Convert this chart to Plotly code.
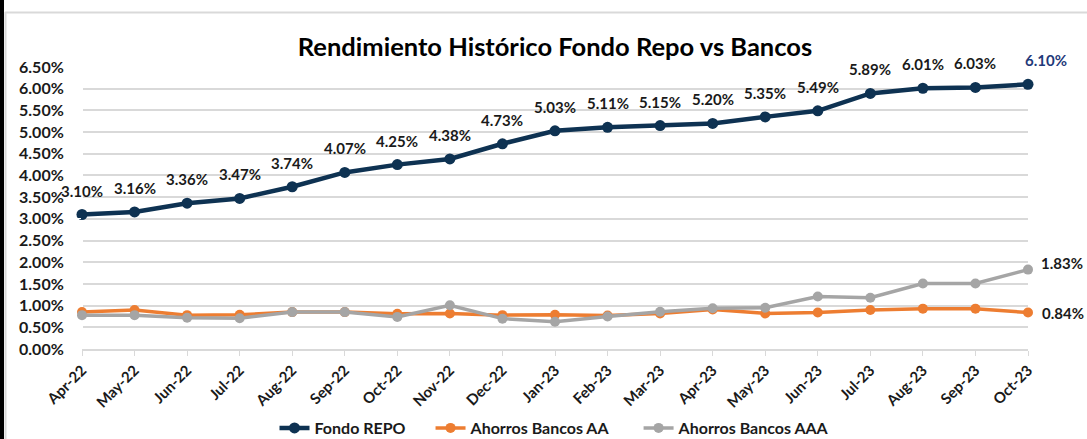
import plotly.graph_objects as go

months = ["Apr-22", "May-22", "Jun-22", "Jul-22", "Aug-22", "Sep-22", "Oct-22", "Nov-22", "Dec-22",
          "Jan-23", "Feb-23", "Mar-23", "Apr-23", "May-23", "Jun-23", "Jul-23", "Aug-23", "Sep-23", "Oct-23"]
fondo_repo = [3.10, 3.16, 3.36, 3.47, 3.74, 4.07, 4.25, 4.38, 4.73, 5.03, 5.11, 5.15, 5.20, 5.35, 5.49, 5.89, 6.01, 6.03, 6.10]
bancos_aa = [0.85, 0.90, 0.78, 0.79, 0.85, 0.85, 0.81, 0.82, 0.78, 0.79, 0.77, 0.82, 0.91, 0.82, 0.84, 0.90, 0.93, 0.93, 0.84]
bancos_aaa = [0.78, 0.78, 0.72, 0.71, 0.85, 0.85, 0.74, 1.01, 0.70, 0.63, 0.75, 0.86, 0.94, 0.95, 1.21, 1.18, 1.51, 1.51, 1.83]
y_ticks = [0.0, 0.5, 1.0, 1.5, 2.0, 2.5, 3.0, 3.5, 4.0, 4.5, 5.0, 5.5, 6.0, 6.5]
series_names = ["Fondo REPO", "Ahorros Bancos AA", "Ahorros Bancos AAA"]

FONT = "Lato"
W, H = 1087, 439
L, R, T, B = 82, 59, 67, 90
pw, ph = W - L - R, H - T - B

x = list(range(len(months)))
fig = go.Figure()
fig.add_trace(go.Scatter(x=x, y=fondo_repo, name=series_names[0] + "\u2003\u2002", mode="lines+markers",
                         line=dict(color="#0E3252", width=4.5), marker=dict(size=11, color="#0E3252"),
                         cliponaxis=False))
fig.add_trace(go.Scatter(x=x, y=bancos_aa, name=series_names[1] + "\u2003\u2003", mode="lines+markers",
                         line=dict(color="#ED7D31", width=3.5), marker=dict(size=10, color="#ED7D31"),
                         cliponaxis=False))
fig.add_trace(go.Scatter(x=x, y=bancos_aaa, name=series_names[2], mode="lines+markers",
                         line=dict(color="#A5A5A5", width=3.5), marker=dict(size=10, color="#A5A5A5"),
                         cliponaxis=False))

LBL = dict(family=FONT, size=15, color="#1a1a1a", weight="bold")
annotations = []
for i, v in enumerate(fondo_repo):
    last = i == len(fondo_repo) - 1
    f = dict(LBL)
    if last:
        f["color"] = "#1F3A7A"
    annotations.append(dict(x=i, y=v, text=f"{v:.2f}%", showarrow=False, yshift=24,
                            xshift=18 if last else 0, font=f))
annotations.append(dict(x=len(months) - 1, y=bancos_aaa[-1], text=f"{bancos_aaa[-1]:.2f}%", showarrow=False,
                        xanchor="left", xshift=11, yshift=7, font=LBL))
annotations.append(dict(x=len(months) - 1, y=bancos_aa[-1], text=f"{bancos_aa[-1]:.2f}%", showarrow=False,
                        xanchor="left", xshift=12, yshift=0, font=LBL))

def px_x(p):
    return (p - L) / pw

def px_y(p):
    return (H - B - p) / ph

shapes = [
    dict(type="rect", xref="paper", yref="paper", x0=px_x(0), x1=px_x(4), y0=px_y(H), y1=px_y(0),
         fillcolor="black", line=dict(width=0), layer="above"),
    dict(type="line", xref="paper", yref="paper", x0=px_x(5.5), x1=px_x(5.5), y0=px_y(H), y1=px_y(12),
         line=dict(color="#D9D9D9", width=2)),
    dict(type="line", xref="paper", yref="paper", x0=px_x(5), x1=px_x(W), y0=px_y(12.5), y1=px_y(12.5),
         line=dict(color="#D9D9D9", width=2)),
]

fig.update_layout(
    width=W, height=H,
    margin=dict(l=L, r=R, t=T, b=B, autoexpand=False),
    paper_bgcolor="white", plot_bgcolor="white",
    title=dict(text="Rendimiento Histórico Fondo Repo vs Bancos", x=0.5, xanchor="center",
               xref="paper", yref="container", y=1 - 47 / H, yanchor="middle",
               font=dict(family=FONT, size=25.5, color="black", weight="bold")),
    xaxis=dict(range=[0, len(months) - 1], tickmode="array", tickvals=x, ticktext=months,
               tickangle=-45, showgrid=False, showline=True, linecolor="#D9D9D9", linewidth=1.5,
               ticks="outside", ticklen=5, tickcolor="#D9D9D9", automargin=False,
               tickfont=dict(family=FONT, size=15, color="#1a1a1a", weight="bold")),
    yaxis=dict(range=[0, 6.5], tickmode="array", tickvals=y_ticks, automargin=False,
               ticktext=[f"{v:.2f}%" for v in y_ticks], showgrid=True, gridcolor="#D9D9D9", gridwidth=1.5,
               zeroline=False, showline=False, ticks="outside", ticklen=14, tickcolor="white",
               tickfont=dict(family=FONT, size=16, color="#1a1a1a", weight="bold")),
    legend=dict(orientation="h", x=0.5, xanchor="center", yref="container", y=1 - 428 / H, yanchor="middle",
                font=dict(family=FONT, size=16, color="#1a1a1a", weight="bold")),
    annotations=annotations,
    shapes=shapes,
    showlegend=True,
)

fig.write_html("out.html", config={"displayModeBar": False},
               post_script="document.body.style.margin='0';document.body.style.overflow='hidden';")
